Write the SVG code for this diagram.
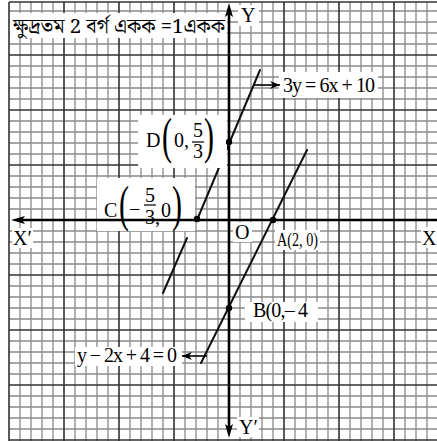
<svg xmlns="http://www.w3.org/2000/svg" width="437" height="441" viewBox="0 0 437 441">
<defs>
<style>
.minor{stroke:#8a8a8a;stroke-width:1.3;fill:none}
.major{stroke:#333;stroke-width:1.6;fill:none}
.gl{stroke:#111;stroke-width:2;fill:none;stroke-linecap:round}
.ax{stroke:#000;stroke-width:2.6;fill:none}
.box{fill:#fff;stroke:none}
.t{font-family:"Liberation Serif","Times New Roman",serif;font-size:20px;fill:#000}
.bn{font-family:"Noto Serif Bengali","Noto Sans Bengali","Lohit Bengali","Liberation Serif",serif;font-size:20px;fill:#000}
.dot{fill:#000}
</style>
<marker id="ah" viewBox="0 0 10 8" refX="10" refY="4" markerWidth="10" markerHeight="8" markerUnits="userSpaceOnUse" orient="auto">
<path d="M0 0L10 4L0 8L3 4Z" fill="#000"/>
</marker>
</defs>
<rect width="437" height="441" fill="#fff"/>
<g id="grid">
<path class="minor" d="M20 2V441M31 2V441M42 2V441M53 2V441M75 2V441M86 2V441M97 2V441M108 2V441M130 2V441M141 2V441M152 2V441M163 2V441M185 2V441M196 2V441M207 2V441M218 2V441M240 2V441M251 2V441M262 2V441M273 2V441M295 2V441M306 2V441M317 2V441M328 2V441M350 2V441M361 2V441M372 2V441M383 2V441M405 2V441M416 2V441M427 2V441M9 11H437M9 22H437M9 33H437M9 44H437M9 66H437M9 77H437M9 88H437M9 99H437M9 121H437M9 132H437M9 143H437M9 154H437M9 176H437M9 187H437M9 198H437M9 209H437M9 231H437M9 242H437M9 253H437M9 264H437M9 286H437M9 297H437M9 308H437M9 319H437M9 341H437M9 352H437M9 363H437M9 374H437M9 396H437M9 407H437M9 418H437M9 429H437"/>
<path class="major" d="M9 2V441M64 2V441M119 2V441M174 2V441M284 2V441M339 2V441M394 2V441M9 2H437M9 55H437M9 110H437M9 165H437M9 275H437M9 330H437M9 385H437M9 440H437"/>
</g>
<g id="connectors">
<path id="line1a" class="gl" d="M197 220L260 70"/>
<path id="line1b" class="gl" d="M163 293L187 238"/>
<path id="line2" class="gl" d="M201 363L307 150"/>
</g>
<g id="label-unit">
<rect class="box" x="10" y="13" width="217" height="25"/>
<text class="bn" x="13" y="33" textLength="212" lengthAdjust="spacingAndGlyphs">ক্ষুদ্রতম 2 বর্গ একক =1একক</text>
</g>
<g id="label-Y"><rect class="box" x="238" y="5" width="21" height="21"/><text class="t" x="241" y="22">Y</text></g>
<g id="label-Yp"><rect class="box" x="237" y="417" width="22" height="20"/><text class="t" x="239" y="434">Y′</text></g>
<g id="label-Xp"><rect class="box" x="12" y="228" width="21" height="20"/><text class="t" x="13" y="245">X′</text></g>
<g id="label-X"><rect class="box" x="421" y="227" width="16" height="21"/><text class="t" x="422" y="245">X</text></g>
<g id="label-O"><rect class="box" x="233" y="222" width="19" height="20"/><text class="t" x="235" y="239">O</text></g>
<g id="label-eq1">
<rect class="box" x="279" y="72" width="99" height="26"/>
<text class="t" x="283" y="92" textLength="92" lengthAdjust="spacing">3y = 6x + 10</text>
</g>
<g id="label-eq2">
<rect class="box" x="75" y="347" width="107" height="19"/>
<text class="t" x="77" y="362" textLength="100" lengthAdjust="spacing">y − 2x + 4 = 0</text>
</g>
<g id="label-A">
<rect class="box" x="275" y="230" width="45" height="20"/>
<text class="t" x="277" y="246" textLength="41" lengthAdjust="spacingAndGlyphs" style="font-size:18px">A(2, 0)</text>
</g>
<g id="label-B">
<rect class="box" x="245" y="302" width="73" height="20"/>
<text class="t" x="253" y="317" textLength="55" lengthAdjust="spacing">B(0,– 4</text>
</g>
<g id="label-D">
<rect class="box" x="138" y="115" width="89" height="53"/>
<text class="t" x="146" y="147">D</text>
<text class="t" transform="translate(162,153) scale(0.6,1)" style="font-size:50px">(</text>
<text class="t" x="174" y="147">0,</text>
<text class="t" x="193" y="137">5</text>
<path d="M192 142H204" stroke="#000" stroke-width="1.2"/>
<text class="t" x="193" y="158">3</text>
<text class="t" transform="translate(204,153) scale(0.6,1)" style="font-size:50px">)</text>
</g>
<g id="label-C">
<rect class="box" x="97" y="178" width="98" height="53"/>
<text class="t" x="104" y="217">C</text>
<text class="t" transform="translate(119,221) scale(0.6,1)" style="font-size:50px">(</text>
<text class="t" x="129" y="216">−</text>
<text class="t" x="145" y="202">5</text>
<path d="M144 205H156" stroke="#000" stroke-width="1.2"/>
<text class="t" x="145" y="224">3,</text>
<text class="t" x="161" y="217">0</text>
<text class="t" transform="translate(172,221) scale(0.6,1)" style="font-size:50px">)</text>
</g>
<g id="axes">
<path class="ax" d="M437 220H22"/>
<path d="M11 220L25 216L22 220L25 224Z" fill="#000"/>
<path class="ax" d="M229 14V428"/>
<path d="M229 3L233 17L229 14L225 17Z" fill="#000"/>
<path d="M229 438L233 424L229 427L225 424Z" fill="#000"/>
</g>
<g id="arrows">
<path d="M254 85H280" stroke="#000" stroke-width="1.6" marker-end="url(#ah)"/>
<path d="M207 356H182" stroke="#000" stroke-width="1.6" marker-end="url(#ah)"/>
</g>
<g id="points">
<circle id="pt-C" class="dot" cx="197" cy="219" r="3.2"/>
<circle id="pt-D" class="dot" cx="229" cy="142" r="3.2"/>
<circle id="pt-A" class="dot" cx="273" cy="220" r="3.2"/>
<circle id="pt-B" class="dot" cx="229" cy="308" r="3.2"/>
</g>
</svg>
